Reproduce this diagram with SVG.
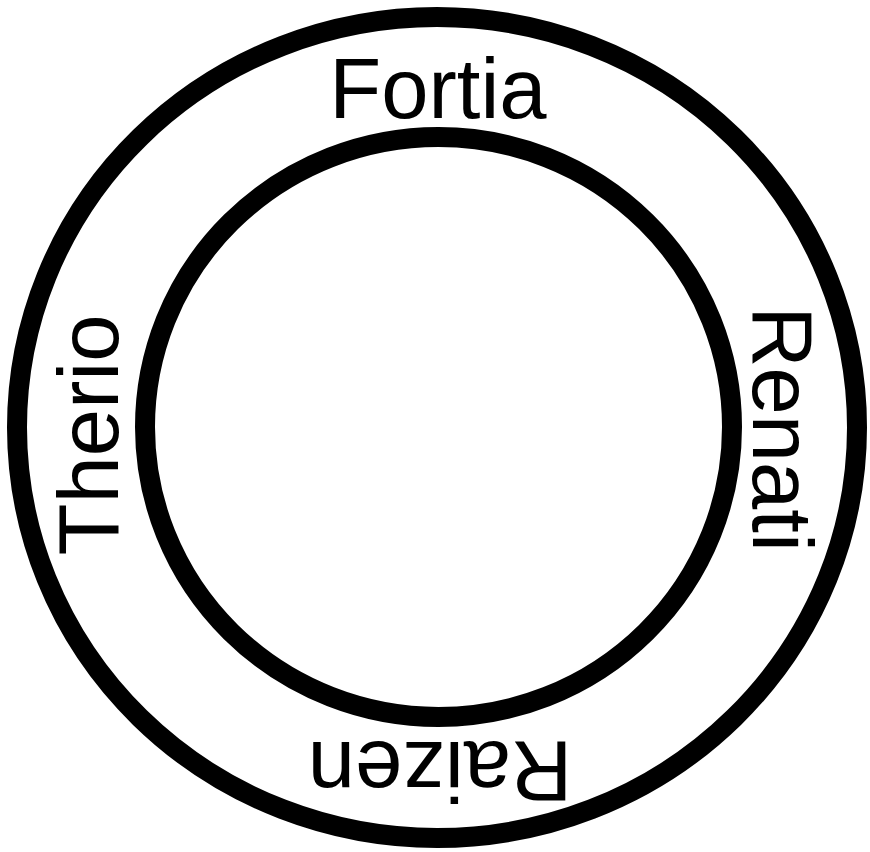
<svg xmlns="http://www.w3.org/2000/svg" width="870" height="852" viewBox="0 0 870 852">
<style>
.ring{fill:none;stroke:#000;stroke-width:20}
.lbl{font-family:"Liberation Sans",Arial,sans-serif;font-size:85px;fill:#000;text-anchor:middle}
</style>
<rect width="870" height="852" fill="#fff"/>
<g id="outer"><ellipse class="ring" cx="437" cy="427.5" rx="420" ry="410.5"/></g>
<g id="inner"><ellipse class="ring" cx="438.5" cy="427" rx="293.5" ry="290"/></g>
<g id="fortia"><text class="lbl" x="438" y="118">Fortia</text></g>
<g id="raizen"><text class="lbl" x="440" y="742" transform="rotate(180 440 742)">Raizen</text></g>
<g id="therio"><text class="lbl" x="118" y="435" transform="rotate(-90 118 435)">Therio</text></g>
<g id="renati"><text class="lbl" x="753" y="429" transform="rotate(90 753 429)">Renati</text></g>
</svg>
